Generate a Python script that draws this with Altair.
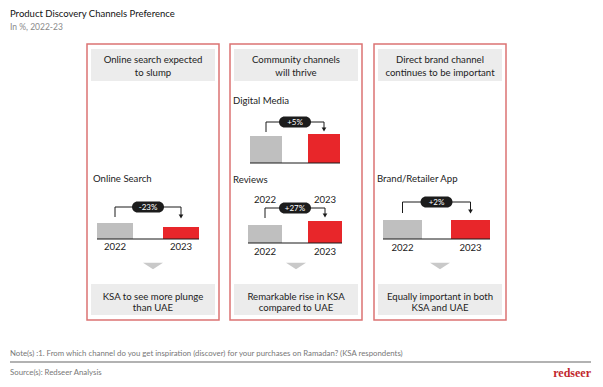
import altair as alt
import pandas as pd

# ---------------- data ----------------
title_text = "Product Discovery Channels Preference"
subtitle_text = "In %, 2022-23"
panel_headers = [["Online search expected", "to slump"],
                 ["Community channels", "will thrive"],
                 ["Direct brand channel", "continues to be important"]]
panel_footers = [["KSA to see more plunge", "than UAE"],
                 ["Remarkable rise in KSA", "compared to UAE"],
                 ["Equally important in both", "KSA and UAE"]]
channels = ["Online Search", "Digital Media", "Reviews", "Brand/Retailer App"]
years = ["2022", "2023"]
share_2022 = [16, 27, 18, 19]
share_2023 = [12, 29, 22, 19]
change_labels = ["-23%", "+5%", "+27%", "+2%"]
note_text = ("Note(s) :1. From which channel do you get inspiration (discover) for your "
             "purchases on Ramadan? (KSA respondents)")
source_text = "Source(s): Redseer Analysis"
brand_text = "redseer"

# ---------------- layout (pixels of the page) ----------------
W, H = 587, 371
OFF = 8
PANEL_X = [87, 230, 374]
PANEL_W = 132
PANEL_Y0, PANEL_Y1 = 44, 320
HEAD_Y0, HEAD_Y1 = 49, 81
FOOT_Y0, FOOT_Y1 = 284, 315
TRI_Y = 266
CH = [
    dict(label=(93, 179), base=239, bars=(97, 199), bw=36, top=207, bot=217, tip=219,
         below=247, above=None),
    dict(label=(233, 101), base=163, bars=(250, 340), bw=32, top=122, bot=132, tip=132,
         below=None, above=None),
    dict(label=(233, 180), base=243, bars=(248, 342), bw=34, top=208, bot=218, tip=218,
         below=252, above=200),
    dict(label=(377, 179), base=239, bars=(383, 490), bw=39, top=202, bot=213, tip=214,
         below=248, above=None),
]

GRAY = "#bfbfbf"
RED = "#e8262a"
BORDER = "#dc7373"
BOX = "#ececec"
INK = "#222222"
FONT = "Lato"
FS = 9.6

XS = alt.Scale(domain=[OFF, OFF + W], range=[0, W], nice=False, zero=False)
YS = alt.Scale(domain=[OFF, OFF + H], range=[0, H], nice=False, zero=False)


def X(f="x"):
    return alt.X(f"{f}:Q", scale=XS, axis=None)


def Y(f="y"):
    return alt.Y(f"{f}:Q", scale=YS, axis=None)


layers = []

# panels
panels = pd.DataFrame({"x": PANEL_X, "x2": [p + PANEL_W for p in PANEL_X],
                       "y": PANEL_Y0, "y2": PANEL_Y1})
layers.append(alt.Chart(panels).mark_rect(fill="white", stroke=BORDER, strokeWidth=1.5)
              .encode(x=X(), x2="x2:Q", y=Y(), y2="y2:Q"))

# header & footer boxes
boxes = pd.DataFrame(
    [dict(x=p + 4, x2=p + PANEL_W - 4, y=HEAD_Y0, y2=HEAD_Y1) for p in PANEL_X] +
    [dict(x=p + 4, x2=p + PANEL_W - 4, y=FOOT_Y0, y2=FOOT_Y1) for p in PANEL_X])
layers.append(alt.Chart(boxes).mark_rect(fill=BOX)
              .encode(x=X(), x2="x2:Q", y=Y(), y2="y2:Q"))

# box texts
rows = []
for i, p in enumerate(PANEL_X):
    cx = p + PANEL_W / 2
    for j, line in enumerate(panel_headers[i]):
        rows.append(dict(x=cx, y=59.5 + 13.5 * j, t=line))
    for j, line in enumerate(panel_footers[i]):
        rows.append(dict(x=cx, y=296.5 + 11 * j, t=line))
layers.append(alt.Chart(pd.DataFrame(rows))
              .mark_text(font=FONT, fontSize=FS, color=INK, align="center", baseline="middle")
              .encode(x=X(), y=Y(), text="t:N"))

# gray down triangles
tri = pd.DataFrame({"x": [p + PANEL_W / 2 for p in PANEL_X], "y": TRI_Y})
layers.append(alt.Chart(tri).mark_point(shape="M-1,-0.32L1,-0.32L0,0.32Z", size=400,
                                        filled=True, fill="#c9c9c9", opacity=1, strokeWidth=0)
              .encode(x=X(), y=Y()))

# channel labels
lab = pd.DataFrame({"x": [c["label"][0] for c in CH], "y": [c["label"][1] for c in CH],
                    "t": channels})
layers.append(alt.Chart(lab)
              .mark_text(font=FONT, fontSize=FS, color=INK, align="left", baseline="middle")
              .encode(x=X(), y=Y(), text="t:N"))

# bars, one group per channel, each with its own scales
for i, c in enumerate(CH):
    l, r = c["bars"]
    step = (r - l) - c["bw"]
    pin = 1 - c["bw"] / step
    df = pd.DataFrame({"year": years, "share": [share_2022[i], share_2023[i]]})
    layers.append(
        alt.Chart(df).mark_bar(size=c["bw"]).encode(
            x=alt.X("year:N", axis=None,
                    scale=alt.Scale(type="band", domain=years, range=[l - OFF, r - OFF],
                                    paddingInner=pin, paddingOuter=0)),
            y=alt.Y("share:Q", axis=None,
                    scale=alt.Scale(domain=[0, 40], range=[c["base"] - OFF, c["base"] - OFF - 40],
                                    nice=False)),
            color=alt.Color("year:N", legend=None,
                            scale=alt.Scale(domain=years, range=[GRAY, RED])),
        ))

# baselines, brackets, pills, year labels
segs, heads, pills, ptxt, ylab = [], [], [], [], []
for i, c in enumerate(CH):
    l, r = c["bars"]
    xa, xb = l + c["bw"] / 2, r - c["bw"] / 2
    segs.append(dict(x=l, x2=r, y=c["base"], y2=c["base"], w=1.2))
    segs.append(dict(x=xa, x2=xa, y=c["bot"], y2=c["top"], w=1))
    segs.append(dict(x=xa, x2=xb, y=c["top"], y2=c["top"], w=1))
    segs.append(dict(x=xb, x2=xb, y=c["top"], y2=c["tip"] - 3, w=1))
    heads.append(dict(x=xb, y=c["tip"] - 2.5))
    mid = (xa + xb) / 2
    pills.append(dict(x=mid - 16, x2=mid + 16, y=c["top"] - 5.5, y2=c["top"] + 5.5))
    ptxt.append(dict(x=mid, y=c["top"] + 0.5, t=change_labels[i]))
    for k, yr in enumerate(years):
        xc = xa if k == 0 else xb
        if c["below"]:
            ylab.append(dict(x=xc, y=c["below"], t=yr))
        if c["above"]:
            ylab.append(dict(x=xc, y=c["above"], t=yr))

layers.append(alt.Chart(pd.DataFrame(segs)).mark_rule(color="#1a1a1a")
              .encode(x=X(), x2="x2:Q", y=Y(), y2="y2:Q",
                      strokeWidth=alt.StrokeWidth("w:Q", scale=None, legend=None)))
layers.append(alt.Chart(pd.DataFrame(heads)).mark_point(shape="triangle-down", size=22,
                                                        filled=True, fill="#1a1a1a", opacity=1)
              .encode(x=X(), y=Y()))
layers.append(alt.Chart(pd.DataFrame(pills)).mark_rect(fill="#1c1c1c", cornerRadius=5.5)
              .encode(x=X(), x2="x2:Q", y=Y(), y2="y2:Q"))
layers.append(alt.Chart(pd.DataFrame(ptxt))
              .mark_text(font=FONT, fontSize=8, color="white",
                         align="center", baseline="middle")
              .encode(x=X(), y=Y(), text="t:N"))
layers.append(alt.Chart(pd.DataFrame(ylab))
              .mark_text(font=FONT, fontSize=FS, color=INK, align="center", baseline="middle")
              .encode(x=X(), y=Y(), text="t:N"))

# title, subtitle
layers.append(alt.Chart(pd.DataFrame([dict(x=10, y=14, t=title_text)]))
              .mark_text(font=FONT, fontSize=9.5, color="#111111", align="left", baseline="middle")
              .encode(x=X(), y=Y(), text="t:N"))
layers.append(alt.Chart(pd.DataFrame([dict(x=10, y=27, t=subtitle_text)]))
              .mark_text(font=FONT, fontSize=8.5, color="#8a8a8a", align="left", baseline="middle")
              .encode(x=X(), y=Y(), text="t:N"))

# footer
layers.append(alt.Chart(pd.DataFrame([dict(x=10, x2=591, y=362, y2=362)]))
              .mark_rule(color="#666666", strokeWidth=1.2)
              .encode(x=X(), x2="x2:Q", y=Y(), y2="y2:Q"))
layers.append(alt.Chart(pd.DataFrame([dict(x=10, y=354, t=note_text),
                                      dict(x=10, y=373, t=source_text)]))
              .mark_text(font=FONT, fontSize=7.8, color="#777777", align="left", baseline="middle")
              .encode(x=X(), y=Y(), text="t:N"))
layers.append(alt.Chart(pd.DataFrame([dict(x=591, y=373, t=brand_text)]))
              .mark_text(font="Liberation Serif", fontSize=12, fontWeight="bold",
                         color="#c1272d", align="right", baseline="middle")
              .encode(x=X(), y=Y(), text="t:N"))

chart = (alt.layer(*layers)
         .resolve_scale(x="independent", y="independent")
         .properties(width=W, height=H, padding=0, autosize="none")
         .configure_view(stroke=None))

chart.save("out.html", embed_options={"renderer": "svg", "actions": False})
